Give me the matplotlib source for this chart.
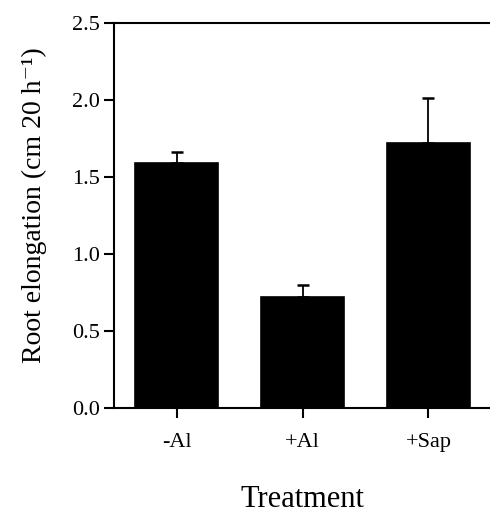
import matplotlib
matplotlib.use("Agg")
import matplotlib.pyplot as plt

# data
treatments = ["-Al", "+Al", "+Sap"]
elongation = [1.59, 0.72, 1.72]
err_upper = [0.07, 0.08, 0.29]

plt.rcParams["font.family"] = ["Liberation Serif", "DejaVu Serif"]

fig = plt.figure(figsize=(4.9, 5.14), dpi=100)
ax = fig.add_axes([114 / 490, 106 / 514, 1 - 114 / 490, 385 / 514])

x = range(len(treatments))
ax.bar(x, elongation, width=0.66, color="black", edgecolor="black",
       linewidth=1.2, zorder=2)
ax.errorbar(x, elongation, yerr=[[0, 0, 0], err_upper], fmt="none",
            ecolor="black", elinewidth=1.3, capsize=4, capthick=1.8, zorder=1)

ax.set_xlim(-0.5, 2.49)
ax.set_ylim(0, 2.5)
ax.set_yticks([0.0, 0.5, 1.0, 1.5, 2.0, 2.5])
ax.set_yticklabels(["0.0", "0.5", "1.0", "1.5", "2.0", "2.5"])
ax.set_xticks(list(x))
ax.set_xticklabels(treatments)

ax.spines["right"].set_visible(False)
for s in ["left", "top", "bottom"]:
    ax.spines[s].set_linewidth(1.5)
ax.tick_params(axis="both", direction="out", length=7, width=1.5,
               labelsize=16, pad=3)
ax.tick_params(axis="x", pad=11)

ax.set_ylabel("Root elongation (cm 20 h\u207b\u00b9)", fontsize=20, labelpad=18)
ax.yaxis.label.set_y(0.527)
ax.set_xlabel("Treatment", fontsize=22, labelpad=24)

fig.savefig("out.png", dpi=100)
